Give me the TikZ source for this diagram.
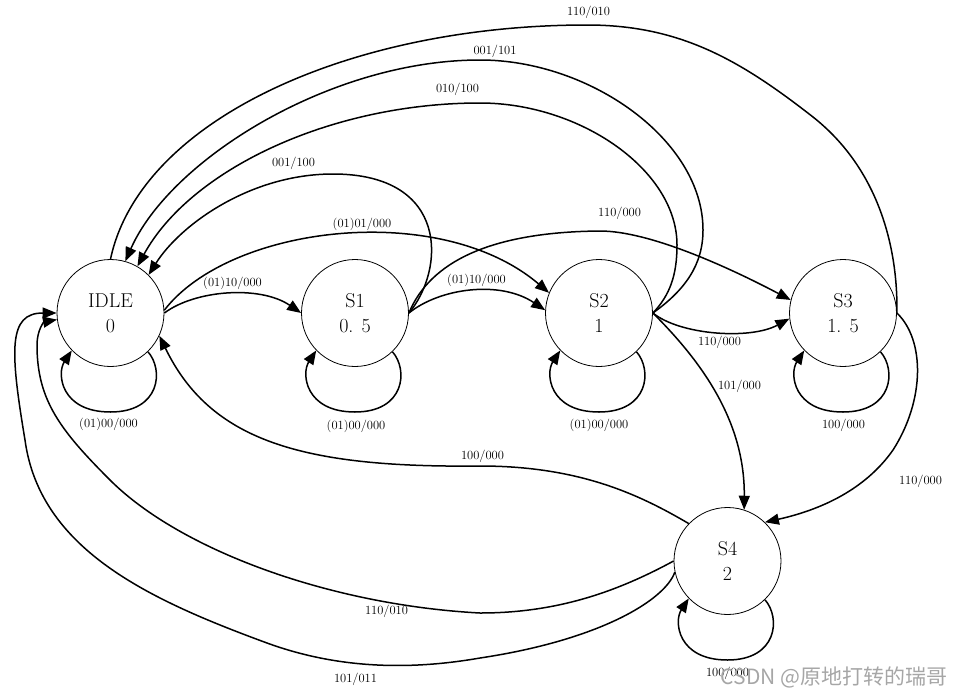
\documentclass[tikz,border=0pt]{standalone}
\usepackage{fontspec}
\newfontfamily\cjkfont{Noto Sans CJK SC}
\usetikzlibrary{arrows.meta,calc}
\begin{document}
\begin{tikzpicture}[x=1pt,y=-1pt,
  state/.style={circle,draw,line width=0.8pt,minimum size=107pt,inner sep=0pt,align=center,font=\fontsize{20}{25}\selectfont},
  tr/.style={line width=1.5pt,-{Triangle[length=14pt,width=11pt]}},
  plainedge/.style={line width=1.5pt},
  lbl/.style={font=\fontsize{12.5}{14}\selectfont,inner sep=0pt},
  wm/.style={font=\cjkfont\fontsize{21}{24}\selectfont,text=black!35,inner sep=0pt}]
\useasboundingbox (0,0) rectangle (955,696);

% states
\node[state] (idle) at (110.5,313) {IDLE\\0};
\node[state] (s1) at (355,313) {S1\\0. 5};
\node[state] (s2) at (599,313) {S2\\1};
\node[state] (s3) at (843,313) {S3\\1. 5};
\node[state] (s4) at (727.5,561) {S4\\2};

% self loops
\foreach \s in {idle,s1,s2,s3,s4}{
  \draw[tr] (\s.-46) .. controls +(16,18) and +(50,0) .. ($(\s)+(0,99)$)
            .. controls +(-50,0) and +(-15,23) .. (\s.-136);
}

% transitions
\draw[tr] (idle.0) .. controls (195,290) and (260,285) .. (s1.180);
\draw[tr] (idle.3) .. controls (230,225) and (440,200) .. (s2.158);
\draw[tr] (s1.0) .. controls (440,288) and (500,280) .. (s2.177);
\draw[tr] (s1.0) .. controls (445,270) and (450,174) .. (333,174)
          .. controls (250,174) and (180,225) .. (idle.45);
\draw[tr] (s2.0) .. controls (670,295) and (677,275) .. (677,245)
          .. controls (677,170) and (580,103) .. (480,103)
          .. controls (330,103) and (190,170) .. (idle.60);
\draw[tr] (s2.0) .. controls (685,290) and (703,265) .. (703,230)
          .. controls (703,140) and (590,60) .. (480,60)
          .. controls (330,60) and (170,160) .. (idle.74);
\draw[plainedge] (s3.0) .. controls (898,250) and (880,170) .. (813,117)
          .. controls (740,60) and (680,25) .. (587,25)
          .. controls (350,25) and (140,120) .. (idle.90);
\draw[tr] (s1.0) .. controls (430,262) and (490,232) .. (600,231)
          .. controls (650,231) and (730,268) .. (s3.166);
\draw[tr] (s2.0) .. controls (680,335) and (750,340) .. (s3.186);
\draw[tr] (s2.0) .. controls (700,360) and (745,420) .. (s4.72);
\draw[tr] (s3.0) .. controls (925,340) and (925,400) .. (893,450)
          .. controls (865,490) and (820,510) .. (s4.46);
\draw[tr] (s4.136) .. controls (640,495) and (580,466) .. (480,466)
          .. controls (300,468) and (210,440) .. (idle.-25);
\draw[tr] (s4.180) .. controls (620,590) and (560,613) .. (480,613)
          .. controls (330,605) and (180,550) .. (110,480)
          .. controls (60,430) and (37,400) .. (37,345)
          .. controls (37,330) and (44,322) .. (idle.187);
\draw[tr] (s4.192) .. controls (665,600) and (600,640) .. (480,658)
          .. controls (400,672) and (330,666) .. (267,643)
          .. controls (150,600) and (40,550) .. (25,440)
          .. controls (10,350) and (8,313) .. (idle.180);

% labels
\node[lbl] (l1) at (232.5,283.5) {(01)10/000};
\node[lbl] (l2) at (108.5,424) {(01)00/000};
\node[lbl] (l3) at (356,426) {(01)00/000};
\node[lbl] (l4) at (599,425.5) {(01)00/000};
\node[lbl] (l5) at (843.5,425.5) {100/000};
\node[lbl] (l6) at (719.5,342.5) {110/000};
\node[lbl] (l7) at (739.5,386.5) {101/000};
\node[lbl] (l8) at (476.5,280) {(01)10/000};
\node[lbl] (l9) at (362,224) {(01)01/000};
\node[lbl] (l10) at (293.5,163) {001/100};
\node[lbl] (l11) at (457.5,89.5) {010/100};
\node[lbl] (l12) at (495,51.5) {001/101};
\node[lbl] (l13) at (588.5,12.5) {110/010};
\node[lbl] (l14) at (619.5,213.5) {110/000};
\node[lbl] (l15) at (920.5,481.5) {110/000};
\node[lbl] (l16) at (482.5,456.5) {100/000};
\node[lbl] (l17) at (386.5,611.5) {110/010};
\node[lbl] (l18) at (355.5,679.5) {101/011};
\node[lbl] (l19) at (727.5,673.5) {100/000};

% watermark
\node[wm] (wm) at (834,677) {CSDN @原地打转的瑞哥};
\end{tikzpicture}
\end{document}
